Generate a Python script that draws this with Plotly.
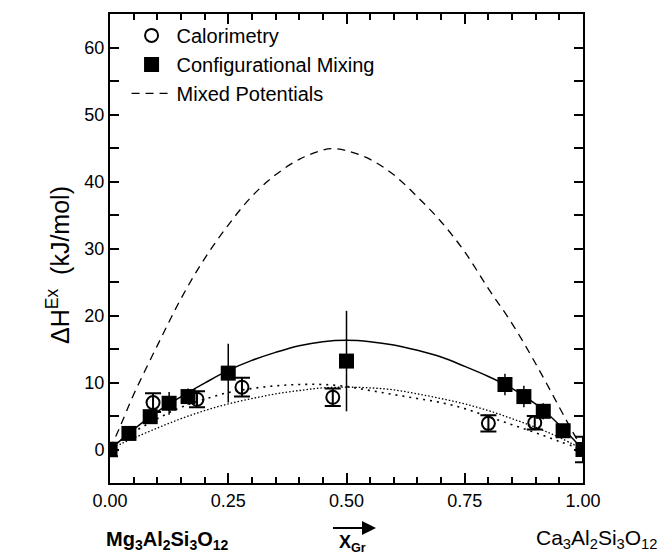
import plotly.graph_objects as go

# ---- data ----
cal_x = [0.0, 0.091, 0.184, 0.279, 0.471, 0.80, 0.898, 1.0]
cal_y = [0.0, 7.0, 7.5, 9.3, 7.8, 3.9, 4.0, 0.0]
cal_err = [1.0, 1.4, 1.2, 1.4, 1.3, 1.2, 1.0, 1.9]

cfg_x = [0.0, 0.04, 0.085, 0.125, 0.165, 0.25, 0.50, 0.835, 0.875, 0.916, 0.958, 1.0]
cfg_y = [0.0, 2.4, 4.9, 6.9, 7.9, 11.4, 13.2, 9.7, 7.9, 5.7, 2.8, 0.0]
cfg_err = [0.0, 0.0, 0.8, 1.7, 1.2, 4.4, 7.5, 1.6, 1.6, 1.2, 0.6, 0.0]

mp_x = [0.0, 0.02, 0.05, 0.10, 0.15, 0.20, 0.25, 0.30, 0.35, 0.40, 0.45, 0.47,
        0.50, 0.55, 0.60, 0.65, 0.70, 0.75, 0.80, 0.85, 0.90, 0.95, 0.98, 1.0]
mp_y = [0.0, 3.2, 8.2, 15.5, 22.5, 28.5, 33.5, 37.8, 41.0, 43.3, 44.7, 44.9,
        44.6, 43.3, 41.0, 37.7, 34.0, 29.5, 24.0, 18.8, 12.8, 6.3, 2.4, 0.0]

fit_x = [0.0, 0.04, 0.085, 0.125, 0.165, 0.20, 0.25, 0.30, 0.35, 0.40, 0.45, 0.50,
         0.55, 0.60, 0.65, 0.70, 0.75, 0.80, 0.835, 0.875, 0.916, 0.958, 1.0]
fit_y = [0.0, 2.4, 4.9, 6.8, 8.5, 9.9, 11.8, 13.3, 14.5, 15.5, 16.1, 16.3,
         16.1, 15.6, 14.8, 13.8, 12.4, 10.9, 9.7, 8.0, 5.9, 3.1, 0.0]

dotA_x = [0.0, 0.025, 0.05, 0.10, 0.15, 0.20, 0.25, 0.30, 0.35, 0.40, 0.45, 0.50,
          0.55, 0.60, 0.65, 0.70, 0.75, 0.80, 0.85, 0.90, 0.95, 1.0]
dotA_y = [0.0, 1.5, 2.6, 4.6, 6.3, 7.5, 8.5, 9.1, 9.5, 9.7, 9.7, 9.4,
          8.8, 8.2, 7.6, 7.0, 6.1, 4.9, 3.7, 2.5, 1.2, 0.0]

dotB_x = [0.0, 0.025, 0.05, 0.10, 0.15, 0.20, 0.25, 0.30, 0.35, 0.40, 0.45, 0.50,
          0.55, 0.60, 0.65, 0.70, 0.75, 0.80, 0.85, 0.90, 0.95, 1.0]
dotB_y = [0.0, 0.9, 1.7, 3.2, 4.6, 5.8, 6.8, 7.6, 8.3, 8.8, 9.2, 9.3,
          9.2, 8.9, 8.3, 7.6, 6.8, 5.8, 4.6, 3.3, 1.8, 0.0]

x_ticks = [0.0, 0.25, 0.5, 0.75, 1.0]
y_ticks = [0, 10, 20, 30, 40, 50, 60]
y_minor = [5, 15, 25, 35, 45, 55]

FONT = "Arial, Liberation Sans, Helvetica, sans-serif"
L, R, T, B = 110, 77, 14, 72
W, H = 660, 555
PW, PH = W - L - R, H - T - B


def px_x(p):  # pixel column -> paper x
    return (p - L) / PW


def px_y(p):  # pixel row -> paper y
    return (H - B - p) / PH


fig = go.Figure()

fig.add_trace(go.Scatter(x=fit_x, y=fit_y, mode="lines", line=dict(color="black", width=1.5, shape="spline"),
                         showlegend=False, hoverinfo="skip"))
fig.add_trace(go.Scatter(x=dotA_x, y=dotA_y, mode="lines", line=dict(color="black", width=1.6, dash="2px,5px", shape="spline"),
                         showlegend=False, hoverinfo="skip"))
fig.add_trace(go.Scatter(x=dotB_x, y=dotB_y, mode="lines", line=dict(color="black", width=1.3, dash="1.5px,2px", shape="spline"),
                         showlegend=False, hoverinfo="skip"))

fig.add_trace(go.Scatter(x=cal_x, y=cal_y, mode="markers", name="Calorimetry",
                         marker=dict(symbol="circle-open", size=13, color="black", line=dict(width=2, color="black")),
                         error_y=dict(type="data", array=cal_err, visible=True, color="black", thickness=2, width=8)))
fig.add_trace(go.Scatter(x=cfg_x, y=cfg_y, mode="markers", name="Configurational Mixing",
                         marker=dict(symbol="square", size=15, color="black"),
                         error_y=dict(type="data", array=cfg_err, visible=True, color="black", thickness=1.5, width=0)))
fig.add_trace(go.Scatter(x=mp_x, y=mp_y, mode="lines", name="Mixed Potentials",
                         line=dict(color="black", width=1.3, dash="8px,6px", shape="spline")))

axis_common = dict(showline=True, linecolor="black", linewidth=2, mirror="ticks", ticks="inside",
                   tickcolor="black", tickwidth=2, showgrid=False, zeroline=False,
                   tickfont=dict(family=FONT, size=18, color="black"))

fig.update_xaxes(range=[0, 1], tickvals=x_ticks, tickformat=".2f", ticklen=10,
                 minor=dict(dtick=0.05, ticks="inside", ticklen=6, tickwidth=1.5, tickcolor="black"),
                 **axis_common)
fig.update_yaxes(range=[-5, 65], tickvals=y_ticks, ticklen=9,
                 minor=dict(tickvals=y_minor, ticks="inside", ticklen=9, tickwidth=2, tickcolor="black"),
                 **axis_common)

# y-axis title
fig.add_annotation(x=px_x(40), y=px_y(265), xref="paper", yref="paper", showarrow=False,
                   textangle=-90, text="ΔH<sup>Ex</sup>  (kJ/mol)",
                   font=dict(family=FONT, size=25, color="black"))
# composition end-members and axis variable
fig.add_annotation(x=px_x(104), y=px_y(526), xref="paper", yref="paper", showarrow=False, yanchor="top",
                   text="<b>Mg<sub>3</sub>Al<sub>2</sub>Si<sub>3</sub>O<sub>12</sub></b>",
                   font=dict(family=FONT, size=20, color="black"))
fig.add_annotation(x=px_x(659), y=px_y(524), xref="paper", yref="paper", showarrow=False,
                   xanchor="right", yanchor="top",
                   text="Ca<sub>3</sub>Al<sub>2</sub>Si<sub>3</sub>O<sub>12</sub>",
                   font=dict(family=FONT, size=21, color="black"))
fig.add_annotation(x=px_x(352), y=px_y(530), xref="paper", yref="paper", showarrow=False, yanchor="top",
                   text="<b>X<sub>Gr</sub></b>", font=dict(family=FONT, size=18, color="black"))
fig.add_annotation(x=px_x(376), y=px_y(528), xref="paper", yref="paper", ax=-46, ay=0, text=" ",
                   showarrow=True, arrowhead=2, arrowsize=1.4, arrowwidth=2, arrowcolor="black")

fig.update_layout(width=W, height=H, margin=dict(l=L, r=R, t=T, b=B),
                  paper_bgcolor="white", plot_bgcolor="white",
                  font=dict(family=FONT, color="black"),
                  legend=dict(x=0.035, y=0.996, xanchor="left", yanchor="top", bgcolor="rgba(0,0,0,0)",
                              font=dict(family=FONT, size=20, color="black"), tracegroupgap=0,
                              itemwidth=40))

fig.write_html("out.html")
